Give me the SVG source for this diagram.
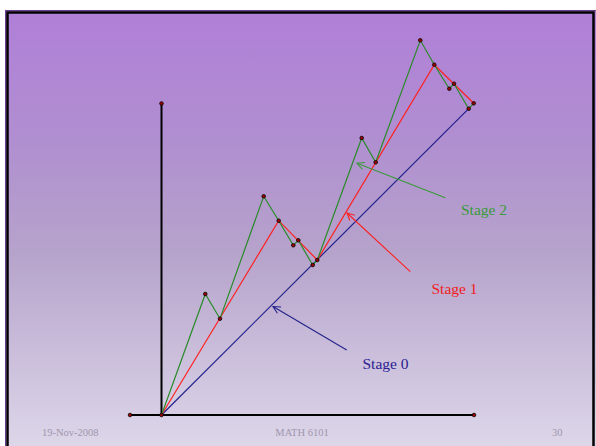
<svg xmlns="http://www.w3.org/2000/svg" width="596" height="446" viewBox="0 0 596 446">
<defs>
<linearGradient id="bg" x1="0" y1="0" x2="0" y2="1">
<stop offset="0" stop-color="#b07fd8"/>
<stop offset="0.3" stop-color="#b08fd0"/>
<stop offset="0.55" stop-color="#b6a3cb"/>
<stop offset="1" stop-color="#ded8ea"/>
</linearGradient>
<marker id="ag" viewBox="0 0 10 10" refX="9" refY="5" markerWidth="9" markerHeight="9" markerUnits="userSpaceOnUse" orient="auto"><path d="M1,1 L9,5 L1,9" fill="none" stroke="#3a9a3a" stroke-width="1.2"/></marker>
<marker id="ar" viewBox="0 0 10 10" refX="9" refY="5" markerWidth="9" markerHeight="9" markerUnits="userSpaceOnUse" orient="auto"><path d="M1,1 L9,5 L1,9" fill="none" stroke="#ff2020" stroke-width="1.2"/></marker>
<marker id="ab" viewBox="0 0 10 10" refX="9" refY="5" markerWidth="9" markerHeight="9" markerUnits="userSpaceOnUse" orient="auto"><path d="M1,1 L9,5 L1,9" fill="none" stroke="#22228a" stroke-width="1.2"/></marker>
</defs>
<style>
.lbl{font-family:"Liberation Serif","DejaVu Serif",serif;font-size:15.5px}
.ft{font-family:"Liberation Serif","DejaVu Serif",serif;font-size:10.5px;fill:#9f96ad}
.dot{fill:#a00000;stroke:#000;stroke-width:0.8}
.ln{fill:none;stroke-width:1.2;stroke-linejoin:miter}
</style>
<rect x="0" y="0" width="596" height="446" fill="#ffffff"/>
<rect x="6" y="11" width="592" height="440" fill="url(#bg)"/>
<rect x="5.5" y="10.5" width="593" height="445" fill="none" stroke="#6b3f8f" stroke-width="1"/>
<rect x="7.5" y="12.5" width="586" height="440" fill="none" stroke="#000" stroke-width="2.5"/>

<g id="axes">
<line x1="161.5" y1="103" x2="161.5" y2="415" stroke="#000" stroke-width="2"/>
<line x1="130" y1="415" x2="474" y2="415" stroke="#000" stroke-width="2"/>
</g>

<g id="connectors">
<polyline id="stage0-line" class="ln" stroke="#22228a" points="161.5,415 468.7,108.7"/>
<polyline id="stage1-line" class="ln" stroke="#ff2020" points="161.5,415 278.7,220.7 317.3,260 434.3,64.7 473.7,103.3"/>
<polyline id="stage2-line" class="ln" stroke="#2a8a2a" points="161.5,415 205.3,294 220,318.7 263.7,196.3 278.7,220.7 293.3,245.3 298.3,240.3 312.7,265 317.3,260 361.7,138 375.7,162.3 420.3,40.3 434.3,64.7 449.3,88.7 454,83.7 468.7,108.7 473.7,103.3"/>
<line x1="445.3" y1="197.7" x2="357" y2="163.3" stroke="#3a9a3a" stroke-width="1.1" marker-end="url(#ag)"/>
<line x1="410.3" y1="271.7" x2="347" y2="213" stroke="#ff2020" stroke-width="1.1" marker-end="url(#ar)"/>
<line x1="346.7" y1="350" x2="273" y2="306.5" stroke="#22228a" stroke-width="1.1" marker-end="url(#ab)"/>
</g>

<g id="points">
<circle class="dot" cx="161.5" cy="103.5" r="1.8"/>
<circle class="dot" cx="130" cy="415" r="1.8"/>
<circle class="dot" cx="161.5" cy="415" r="1.8"/>
<circle class="dot" cx="474" cy="415" r="1.8"/>
<circle class="dot" cx="205.3" cy="294" r="1.8"/>
<circle class="dot" cx="220" cy="318.7" r="1.8"/>
<circle class="dot" cx="263.7" cy="196.3" r="1.8"/>
<circle class="dot" cx="278.7" cy="220.7" r="1.8"/>
<circle class="dot" cx="293.3" cy="245.3" r="1.8"/>
<circle class="dot" cx="298.3" cy="240.3" r="1.8"/>
<circle class="dot" cx="312.7" cy="265" r="1.8"/>
<circle class="dot" cx="317.3" cy="260" r="1.8"/>
<circle class="dot" cx="361.7" cy="138" r="1.8"/>
<circle class="dot" cx="375.7" cy="162.3" r="1.8"/>
<circle class="dot" cx="420.3" cy="40.3" r="1.8"/>
<circle class="dot" cx="434.3" cy="64.7" r="1.8"/>
<circle class="dot" cx="449.3" cy="88.7" r="1.8"/>
<circle class="dot" cx="454" cy="83.7" r="1.8"/>
<circle class="dot" cx="468.7" cy="108.7" r="1.8"/>
<circle class="dot" cx="473.7" cy="103.3" r="1.8"/>
</g>

<g id="label-stage2"><text class="lbl" x="461" y="215" fill="#3a9a3a">Stage 2</text></g>
<g id="label-stage1"><text class="lbl" x="431.5" y="294" fill="#f02020">Stage 1</text></g>
<g id="label-stage0"><text class="lbl" x="362.5" y="368.5" fill="#2a2090">Stage 0</text></g>

<g id="footer">
<text class="ft" x="42" y="436">19-Nov-2008</text>
<text class="ft" x="302" y="436" text-anchor="middle">MATH 6101</text>
<text class="ft" x="552" y="436">30</text>
</g>
</svg>
